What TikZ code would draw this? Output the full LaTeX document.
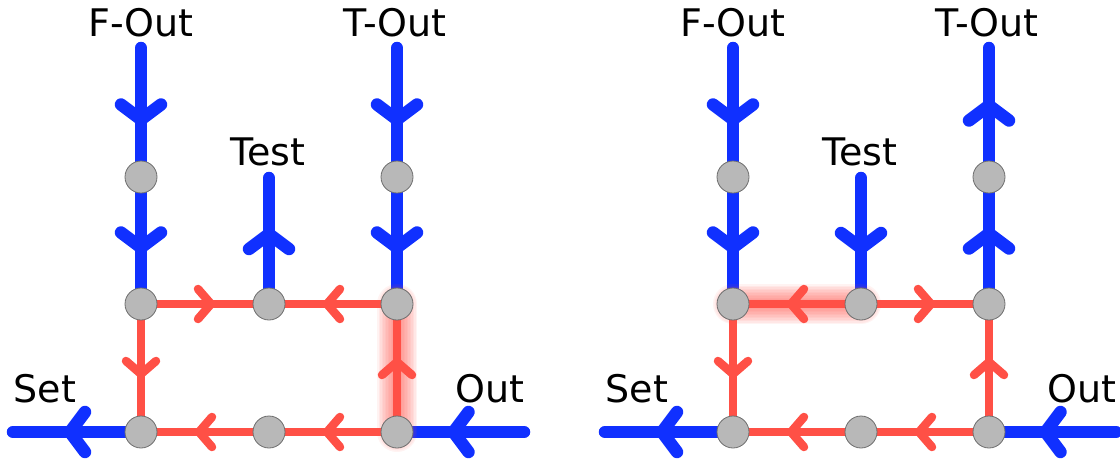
\documentclass[tikz,border=0pt]{standalone}
\usepackage{fontspec}
\setmainfont{DejaVu Sans}
\usetikzlibrary{decorations.markings}
\definecolor{wireblue}{RGB}{16,48,255}
\definecolor{wirered}{RGB}{255,80,70}
\definecolor{nodegray}{RGB}{184,184,184}
\definecolor{nodeedge}{RGB}{110,110,110}
\pgfdeclarelayer{wires}
\pgfsetlayers{wires,main}
\tikzstyle{bluewire}=[line width=12.5pt,draw=wireblue,line cap=round,postaction={decorate},
  decoration={markings,mark=at position 0.5 with {\draw[wireblue,line width=12.5pt,line cap=round,line join=round] (-8pt,20pt) -- (7pt,0pt) -- (-8pt,-20pt);}}]
\tikzstyle{redwire}=[line width=8.5pt,draw=wirered,line cap=round,postaction={decorate},
  decoration={markings,mark=at position 0.5 with {\draw[wirered,line width=8.5pt,line cap=round,line join=round] (-7pt,15pt) -- (6pt,0pt) -- (-7pt,-15pt);}}]
\tikzstyle{junction}=[circle,fill=nodegray,draw=nodeedge,line width=0.8pt,minimum size=32pt,inner sep=0pt]
\tikzstyle{port}=[inner sep=0pt,font=\fontsize{38}{40}\selectfont]
\newcommand{\wire}[3][bluewire]{% Syntax: [style] {from} {to}
  \begin{pgfonlayer}{wires}\draw[#1] (#2) -- (#3);\end{pgfonlayer}
}
\newcommand{\glow}[2]{% soft red halo under a wire
  \begin{pgfonlayer}{wires}
  \foreach \w in {40,37,...,10}
    \draw[wirered,line width=\w pt,opacity=0.07,line cap=round] (#1) -- (#2);
  \end{pgfonlayer}
}
\newcommand{\drawpanel}[2]{% Syntax: {x offset} {prefix}
  \begin{scope}[xshift=#1pt]
  \node[junction] (#2fm) at (141,177) {};
  \node[junction] (#2tm) at (397,177) {};
  \node[junction] (#2ul) at (141,304) {};
  \node[junction] (#2uc) at (269,304) {};
  \node[junction] (#2ur) at (397,304) {};
  \node[junction] (#2ll) at (141,432) {};
  \node[junction] (#2lc) at (269,432) {};
  \node[junction] (#2lr) at (397,432) {};
  \coordinate (#2ft) at (141,48);
  \coordinate (#2tt) at (397,48);
  \coordinate (#2st) at (269,178);
  \coordinate (#2set) at (13,432);
  \coordinate (#2out) at (524,432);
  \node[port] (#2flabel) at (141,23) {F-Out};
  \node[port] (#2tlabel) at (395,23) {T-Out};
  \node[port] (#2slabel) at (268,152) {Test};
  \node[port] (#2setlabel) at (45,389) {Set};
  \node[port] (#2outlabel) at (490,389) {Out};
  \end{scope}
}

\begin{document}
\begin{tikzpicture}[x=1pt,y=-1pt]
\useasboundingbox (0,0) rectangle (1120,461);
	\drawpanel{0}{a}
	\drawpanel{592}{b}
	% left panel
	\wire{aft}{afm.center}
	\wire{afm.center}{aul.center}
	\wire{atm.center}{aur.center}
	\wire{att}{atm.center}
	\wire{auc.center}{ast}
	\wire{all.center}{aset}
	\wire{aout}{alr.center}
	\glow{alr.center}{aur.center}
	\wire[redwire]{aul.center}{auc.center}
	\wire[redwire]{aur.center}{auc.center}
	\wire[redwire]{aul.center}{all.center}
	\wire[redwire]{alr.center}{aur.center}
	\wire[redwire]{alr.center}{alc.center}
	\wire[redwire]{alc.center}{all.center}
	% right panel
	\wire{bft}{bfm.center}
	\wire{bfm.center}{bul.center}
	\wire{bur.center}{btm.center}
	\wire{btm.center}{btt}
	\wire{bst}{buc.center}
	\wire{bll.center}{bset}
	\wire{bout}{blr.center}
	\glow{buc.center}{bul.center}
	\wire[redwire]{buc.center}{bul.center}
	\wire[redwire]{buc.center}{bur.center}
	\wire[redwire]{bul.center}{bll.center}
	\wire[redwire]{blr.center}{bur.center}
	\wire[redwire]{blr.center}{blc.center}
	\wire[redwire]{blc.center}{bll.center}
\end{tikzpicture}
\end{document}
